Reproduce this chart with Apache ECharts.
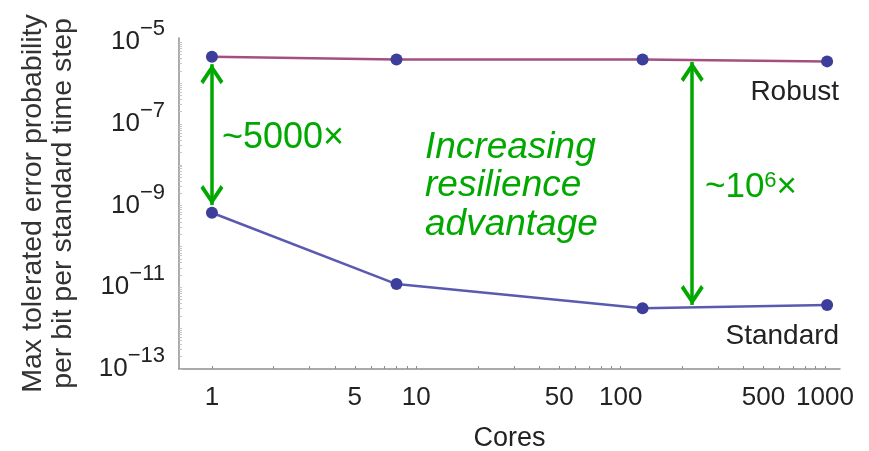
<!DOCTYPE html>
<html>
<head>
<meta charset="utf-8">
<script src="https://cdn.jsdelivr.net/npm/echarts@6/dist/echarts.min.js"></script>
<style>
  html, body { margin: 0; padding: 0; background: #fff; }
  #chart { width: 869px; height: 451px; }
</style>
</head>
<body>
<div id="chart"></div>
<script>
// Tolerated error probability per bit per standard time step vs. core count
const cores = [1, 8, 128, 1024];
const robust = [4.4e-6, 3.8e-6, 3.8e-6, 3.4e-6];
const standard = [6.7e-10, 1.2e-11, 3.06e-12, 3.7e-12];
const seriesNames = ['Robust', 'Standard'];

// Axis labels
const xTickLabels = [1, 5, 10, 50, 100, 500, 1000];
const yTickLabels = [1e-13, 1e-11, 1e-9, 1e-7, 1e-5];

// Double-headed arrows marking the gap between the two curves
const gapCores = [1, 224];
const gapHigh = [2.9e-6, 3.3e-6];
const gapLow = [1.03e-9, 3.7e-12];

const FONT = '"Liberation Sans", Arial, Helvetica, sans-serif';
const GREEN = '#00a800';
const TEXT = '#222';
const AXIS = '#8f8f8f';
const DOT = '#3d3d9c';

// minor tick positions: 1..9 within each decade
function decadeTicks(fromExp, toExp) {
  const out = [];
  for (let e = fromExp; e < toExp; e++) {
    for (let m = 1; m <= 9; m++) out.push(m * Math.pow(10, e));
  }
  out.push(Math.pow(10, toExp));
  return out;
}

// open arrow head; its tip sits at the centre of the symbol box so the
// tip lands exactly on the line end whatever the rotation
const chevron = 'path://M11.5,0 L11.6,0 L11.5,0.1 Z M0,37 L11.5,20 L23,37 L20.2,40 L11.5,26.8 L2.8,40 Z';

const chart = echarts.init(document.getElementById('chart'), null, { renderer: 'canvas' });

chart.setOption({
  animation: false,
  backgroundColor: '#fff',
  textStyle: { fontFamily: FONT },
  grid: { left: 179, right: 29, top: 38, bottom: 82, containLabel: false, outerBoundsMode: 'none' },
  xAxis: {
    type: 'log',
    logBase: 10,
    min: 0.69,
    max: 1184,
    name: 'Cores',
    nameLocation: 'middle',
    nameGap: 56,
    nameTextStyle: { fontSize: 27, color: TEXT, fontFamily: FONT, lineHeight: 27 },
    axisLine: { show: true, lineStyle: { color: AXIS, width: 1.5 } },
    axisTick: { show: true, inside: true, length: 3, customValues: decadeTicks(0, 3), lineStyle: { color: AXIS, width: 1 } },
    minorTick: { show: false },
    splitLine: { show: false },
    axisLabel: {
      customValues: xTickLabels,
      margin: 16,
      fontSize: 26,
      lineHeight: 26,
      color: TEXT,
      fontFamily: FONT,
      formatter: v => String(v)
    }
  },
  yAxis: {
    type: 'log',
    logBase: 10,
    min: 1e-13,
    max: 1.27e-5,
    name: 'Max tolerated error probability\nper bit per standard time step',
    nameLocation: 'middle',
    nameGap: 101,
    nameTextStyle: { fontSize: 28.5, lineHeight: 30, color: '#333', fontFamily: FONT },
    axisLine: { show: true, lineStyle: { color: AXIS, width: 1.5 } },
    axisTick: { show: true, inside: true, length: 3, customValues: decadeTicks(-13, -5), lineStyle: { color: '#c4c4c4', width: 1 } },
    minorTick: { show: false },
    splitLine: { show: false },
    axisLabel: {
      customValues: yTickLabels,
      margin: 14,
      color: TEXT,
      fontFamily: FONT,
      formatter: v => {
        const e = Math.round(Math.log10(v));
        return '{b|10}{s|' + (e < 0 ? '\u2212' : '') + Math.abs(e) + '}';
      },
      rich: {
        b: { fontSize: 26, lineHeight: 26, color: TEXT, fontFamily: FONT, verticalAlign: 'middle' },
        s: { fontSize: 22, lineHeight: 22, color: TEXT, fontFamily: FONT, verticalAlign: 'middle', padding: [0, 0, 26, 0] }
      }
    }
  },
  series: [
    {
      name: seriesNames[0],
      type: 'line',
      data: cores.map((c, i) => [c, robust[i]]),
      symbol: 'circle',
      symbolSize: 12,
      itemStyle: { color: DOT },
      lineStyle: { color: '#a34f80', width: 2.5 },
      silent: true,
      z: 3,
      label: { show: false },
      emphasis: { disabled: true },
      markLine: {
        silent: true,
        symbol: [chevron, chevron],
        symbolSize: [23, 40],
        label: { show: false },
        lineStyle: { color: GREEN, width: 3.5, type: 'solid' },
        itemStyle: { color: GREEN },
        emphasis: { disabled: true },
        data: gapCores.map((c, i) => [
          { coord: [c, gapHigh[i]] },
          { coord: [c, gapLow[i]] }
        ])
      }
    },
    {
      name: seriesNames[1],
      type: 'line',
      data: cores.map((c, i) => [c, standard[i]]),
      symbol: 'circle',
      symbolSize: 12,
      itemStyle: { color: DOT },
      lineStyle: { color: '#5a5ab0', width: 2.5 },
      silent: true,
      z: 3,
      emphasis: { disabled: true }
    }
  ],
  graphic: [
    {
      type: 'text',
      x: 222, y: 138,
      silent: true,
      style: { text: '~5000\u00d7', fontSize: 36, fontFamily: FONT, fill: GREEN, verticalAlign: 'middle', align: 'left' }
    },
    {
      type: 'text',
      x: 425, y: 128,
      silent: true,
      style: {
        text: 'Increasing\nresilience\nadvantage',
        fontSize: 37, fontStyle: 'italic', fontFamily: FONT, lineHeight: 38.5,
        fill: GREEN, verticalAlign: 'top', align: 'left'
      }
    },
    {
      type: 'text',
      x: 705, y: 187,
      silent: true,
      style: {
        text: '{a|~10}{s|6}{a|\u00d7}',
        verticalAlign: 'middle', align: 'left',
        rich: {
          a: { fontSize: 35, lineHeight: 35, fontFamily: FONT, fill: GREEN, color: GREEN, verticalAlign: 'middle' },
          s: { fontSize: 22, lineHeight: 22, fontFamily: FONT, fill: GREEN, color: GREEN, verticalAlign: 'middle', padding: [0, 0, 12, 0] }
        }
      }
    }
  ]
});

// series names printed under the last point of each curve
chart.setOption({
  series: [0, 1].map(si => ({
    data: cores.map((c, i) => ({
      value: [c, (si === 0 ? robust : standard)[i]],
      label: i === cores.length - 1 ? {
        show: true,
        formatter: seriesNames[si],
        position: 'bottom',
        align: 'right',
        distance: 11,
        offset: [12, 0],
        fontSize: 28,
        lineHeight: 28,
        color: TEXT,
        fontFamily: FONT
      } : { show: false }
    }))
  }))
});
</script>
</body>
</html>
